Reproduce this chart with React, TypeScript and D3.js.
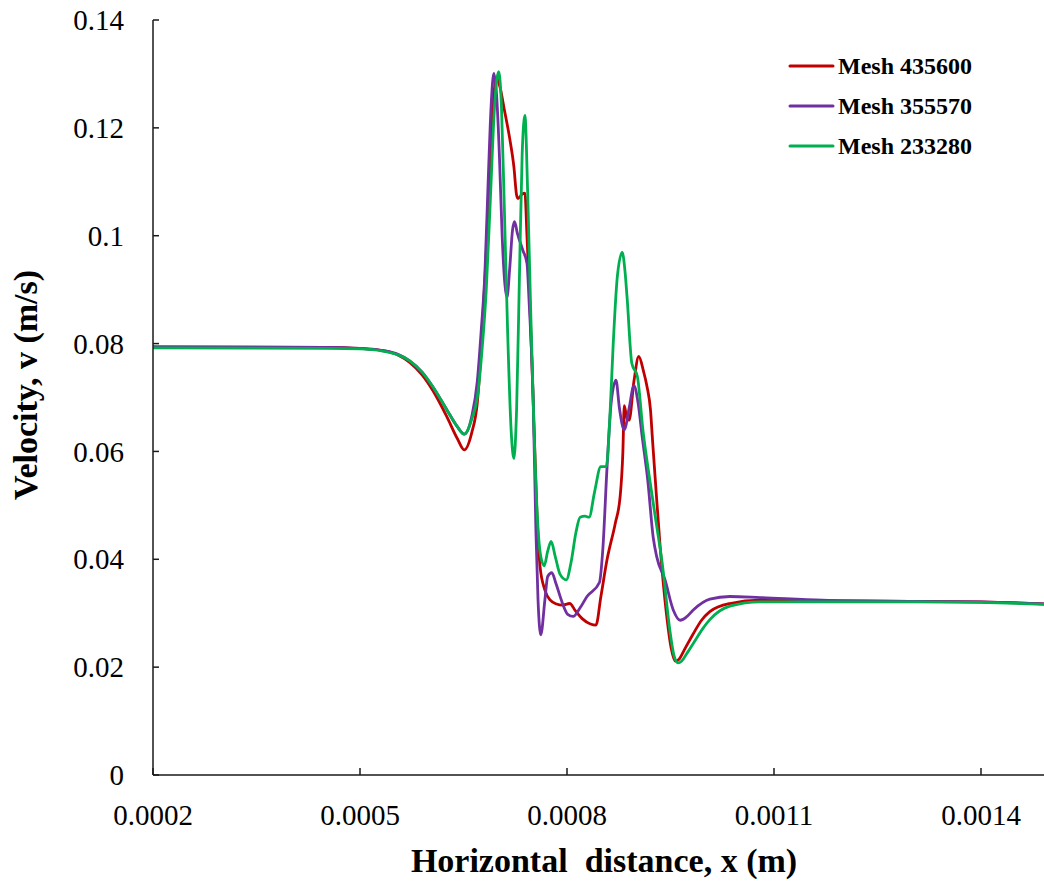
import React from 'react';
import * as d3 from 'd3';

const xTicks = [0.0002, 0.0005, 0.0008, 0.0011, 0.0014];
const xTickLabels = ['0.0002', '0.0005', '0.0008', '0.0011', '0.0014'];
const yTicks = [0, 0.02, 0.04, 0.06, 0.08, 0.1, 0.12, 0.14];
const yTickLabels = ['0', '0.02', '0.04', '0.06', '0.08', '0.1', '0.12', '0.14'];

const seriesNames = ['Mesh 435600', 'Mesh 355570', 'Mesh 233280'];
const seriesColors = ['#C00000', '#7030A0', '#00B050'];

const mesh435600: [number, number][] = [
  [0.0002, 0.0794], [0.00045, 0.0793], [0.0005, 0.0791], [0.000533, 0.0787], [0.000555, 0.0779],
  [0.000572, 0.0765], [0.00059, 0.0742], [0.000606, 0.0712], [0.000626, 0.0664], [0.000641, 0.0624],
  [0.000651, 0.0603], [0.000662, 0.0635], [0.00067, 0.069], [0.000677, 0.082], [0.000683, 0.097],
  [0.000688, 0.113], [0.000693, 0.125], [0.000698, 0.1292], [0.000703, 0.1275], [0.000709, 0.1235],
  [0.000717, 0.118], [0.000723, 0.1128], [0.000727, 0.1075], [0.000729, 0.1069], [0.000735, 0.1077],
  [0.000739, 0.1079], [0.000742, 0.1], [0.000746, 0.088], [0.000751, 0.0695], [0.000756, 0.05],
  [0.000761, 0.0386], [0.000768, 0.0343], [0.000775, 0.0325], [0.000785, 0.0317], [0.000793, 0.0315],
  [0.000804, 0.0318], [0.000812, 0.0305], [0.000822, 0.029], [0.000834, 0.028], [0.000842, 0.0278],
  [0.000849, 0.033], [0.000858, 0.0399], [0.00087, 0.0467], [0.000877, 0.0516], [0.000881, 0.06],
  [0.000883, 0.0685], [0.000887, 0.066], [0.00089, 0.0658], [0.000897, 0.073], [0.000904, 0.0776],
  [0.000911, 0.0748], [0.000916, 0.072], [0.000921, 0.0677], [0.000924, 0.062], [0.000928, 0.0547],
  [0.000935, 0.0423], [0.000944, 0.03], [0.000951, 0.0235], [0.000957, 0.0211], [0.000962, 0.0214],
  [0.00097, 0.0232], [0.000983, 0.0262], [0.000995, 0.0287], [0.001007, 0.0303], [0.001036, 0.0318],
  [0.00108, 0.0324], [0.00117, 0.0323], [0.0013, 0.0322], [0.0014, 0.0321], [0.0015, 0.0317],
];

const mesh355570: [number, number][] = [
  [0.0002, 0.0794], [0.00045, 0.0793], [0.0005, 0.0791], [0.000533, 0.0787], [0.000555, 0.078],
  [0.000572, 0.0768], [0.00059, 0.0747], [0.000606, 0.0719], [0.000626, 0.0677], [0.000641, 0.0646],
  [0.000651, 0.0632], [0.000662, 0.0665], [0.00067, 0.073], [0.000676, 0.083], [0.000681, 0.093],
  [0.000686, 0.111], [0.00069, 0.124], [0.000694, 0.1301], [0.000698, 0.126], [0.000702, 0.115],
  [0.000706, 0.1], [0.00071, 0.091], [0.000713, 0.0886], [0.000717, 0.094], [0.000721, 0.101],
  [0.000724, 0.1026], [0.000728, 0.1005], [0.000736, 0.0973], [0.000742, 0.0949], [0.000745, 0.088],
  [0.000751, 0.0695], [0.000755, 0.045], [0.000758, 0.0325], [0.000762, 0.026], [0.000768, 0.0325],
  [0.000772, 0.0368], [0.000778, 0.0375], [0.000784, 0.0355], [0.000793, 0.032], [0.000801, 0.0298],
  [0.000809, 0.0294], [0.000819, 0.031], [0.000829, 0.0331], [0.000847, 0.0357], [0.000852, 0.042],
  [0.000858, 0.057], [0.000864, 0.069], [0.000871, 0.0732], [0.000876, 0.068], [0.000883, 0.064],
  [0.00089, 0.068], [0.000897, 0.0722], [0.000903, 0.069], [0.000909, 0.0627], [0.000917, 0.0547],
  [0.000925, 0.044], [0.00093, 0.0405], [0.000942, 0.0362], [0.000954, 0.0306], [0.000964, 0.0287],
  [0.000973, 0.0293], [0.000983, 0.0306], [0.001007, 0.0326], [0.001036, 0.0331], [0.00108, 0.0329],
  [0.00117, 0.0324], [0.0013, 0.0322], [0.0014, 0.0321], [0.0015, 0.0317],
];

const mesh233280: [number, number][] = [
  [0.0002, 0.0792], [0.00045, 0.0791], [0.0005, 0.079], [0.000533, 0.0786], [0.000555, 0.0779],
  [0.000572, 0.0768], [0.00059, 0.0747], [0.000606, 0.0719], [0.000626, 0.0677], [0.000641, 0.0646],
  [0.000651, 0.0632], [0.000662, 0.066], [0.00067, 0.07], [0.000677, 0.079], [0.000683, 0.09],
  [0.000689, 0.107], [0.000695, 0.124], [0.000701, 0.1304], [0.000705, 0.124], [0.000709, 0.106],
  [0.000714, 0.082], [0.000719, 0.064], [0.000723, 0.0587], [0.000727, 0.068], [0.000731, 0.092],
  [0.000735, 0.115], [0.000739, 0.1223], [0.000743, 0.108], [0.000747, 0.088], [0.000752, 0.065],
  [0.000757, 0.048], [0.000762, 0.0405], [0.000767, 0.0388], [0.000772, 0.0415], [0.000777, 0.0433],
  [0.000783, 0.0405], [0.00079, 0.0372], [0.000799, 0.0362], [0.000806, 0.0395], [0.000813, 0.045],
  [0.000819, 0.0478], [0.000826, 0.048], [0.000832, 0.0478], [0.00084, 0.0525], [0.000849, 0.0572],
  [0.000857, 0.0572], [0.000862, 0.066], [0.000867, 0.08], [0.000873, 0.0925], [0.00088, 0.0969],
  [0.000884, 0.0935], [0.000887, 0.0887], [0.000894, 0.0763], [0.000902, 0.0739], [0.00091, 0.064],
  [0.00092, 0.0547], [0.000929, 0.047], [0.000938, 0.0393], [0.000949, 0.0269], [0.000955, 0.0222],
  [0.000961, 0.0208], [0.000966, 0.0211], [0.000974, 0.0226], [0.000985, 0.0248], [0.000996, 0.027],
  [0.001007, 0.0288], [0.001036, 0.0313], [0.00108, 0.0321], [0.00117, 0.0321], [0.0013, 0.0321],
  [0.0014, 0.032], [0.0015, 0.0316],
];

const allSeries = [mesh435600, mesh355570, mesh233280];

const W = 1044;
const H = 888;
const FONT = "'Liberation Serif', 'Times New Roman', 'DejaVu Serif', serif";

export default function App() {
  const x = d3.scaleLinear().domain([0.0002, 0.0015]).range([153, 1050]);
  const y = d3.scaleLinear().domain([0, 0.14]).range([775, 20]);
  const line = d3
    .line<[number, number]>()
    .x((d) => x(d[0]))
    .y((d) => y(d[1]))
    .curve(d3.curveMonotoneX);

  const axisColor = '#1a1a1a';
  const textStyle = { fontFamily: FONT };
  return (
    <svg
      width={W}
      height={H}
      style={{ position: 'absolute', left: 0, top: 0, background: '#fff', fontFamily: FONT }}
    >
      <defs>
        <clipPath id="plotclip">
          <rect x={153} y={0} width={W - 153} height={776} />
        </clipPath>
      </defs>
      <rect x={0} y={0} width={W} height={H} fill="#fff" />

      <g clipPath="url(#plotclip)">
        {allSeries.map((s, i) => (
          <path
            key={i}
            d={line(s) || ''}
            fill="none"
            stroke={seriesColors[i]}
            strokeWidth={2.8}
            strokeLinejoin="round"
            strokeLinecap="round"
          />
        ))}
      </g>

      <line x1={153} y1={y(0.14)} x2={153} y2={y(0)} stroke={axisColor} strokeWidth={1.5} />
      <line x1={153} y1={y(0)} x2={W} y2={y(0)} stroke={axisColor} strokeWidth={1.5} />

      {yTicks.map((t, i) => (
        <g key={'y' + i}>
          <line x1={153} x2={159} y1={y(t)} y2={y(t)} stroke={axisColor} strokeWidth={1.5} />
          <text x={124} y={y(t)} dy="0.35em" textAnchor="end" fontSize={29} fill="#000" style={textStyle}>
            {yTickLabels[i]}
          </text>
        </g>
      ))}

      {xTicks.map((t, i) => (
        <g key={'x' + i}>
          <line x1={x(t)} x2={x(t)} y1={y(0)} y2={y(0) - 7} stroke={axisColor} strokeWidth={1.5} />
          <text x={x(t)} y={825} textAnchor="middle" fontSize={29} fill="#000" style={textStyle}>
            {xTickLabels[i]}
          </text>
        </g>
      ))}

      <text x={604} y={872} textAnchor="middle" fontSize={34} fontWeight="bold" fill="#000" style={textStyle}>
        Horizontal&#160; distance, x (m)
      </text>
      <text
        transform="translate(37,385) rotate(-90)"
        textAnchor="middle"
        fontSize={34}
        fontWeight="bold"
        fill="#000"
        style={textStyle}
      >
        Velocity, v (m/s)
      </text>

      {seriesNames.map((n, i) => (
        <g key={'l' + i}>
          <line
            x1={790}
            x2={833}
            y1={66 + i * 40}
            y2={66 + i * 40}
            stroke={seriesColors[i]}
            strokeWidth={3}
            strokeLinecap="round"
          />
          <text x={838} y={66 + i * 40} dy="0.33em" fontSize={24} fontWeight="bold" fill="#000" style={textStyle}>
            {n}
          </text>
        </g>
      ))}
    </svg>
  );
}
